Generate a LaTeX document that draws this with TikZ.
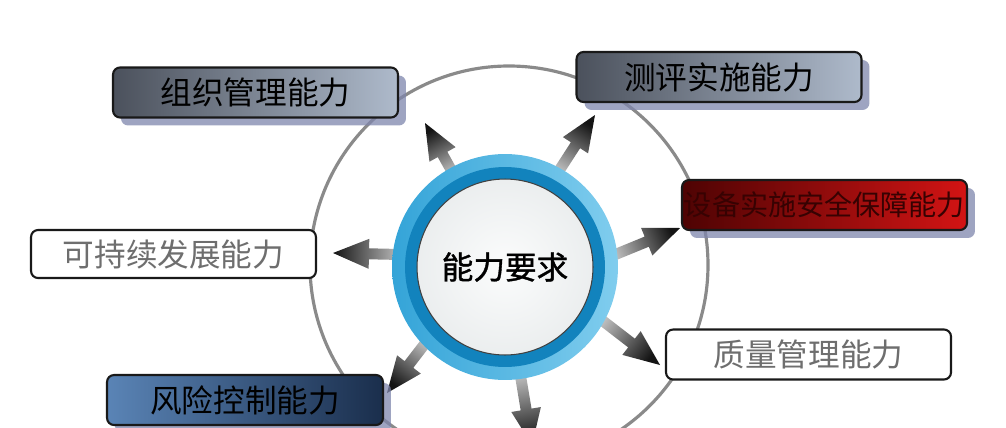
\documentclass[tikz,border=0pt]{standalone}
\usepackage{fontspec}
\setmainfont{Noto Sans CJK SC}
\newfontfamily\hubfont[FakeBold=1.2]{Noto Sans CJK SC}
\usepackage{xcolor}
\usepackage{tikz}
\usetikzlibrary{calc,shadows,backgrounds}

\definecolor{slateL}{HTML}{4B515C}
\definecolor{slateR}{HTML}{AEBACB}
\definecolor{redL}{HTML}{4E0303}
\definecolor{redR}{HTML}{D31414}
\definecolor{blueL}{HTML}{5A84B6}
\definecolor{blueR}{HTML}{1A2E4C}
\definecolor{shadowblue}{HTML}{7E85AC}
\definecolor{ringL}{HTML}{34A4D8}
\definecolor{ringR}{HTML}{80CDEE}
\definecolor{ringdark}{HTML}{1283BD}
\definecolor{softtext}{HTML}{6E6E6E}
\definecolor{orbitgray}{HTML}{8A8A8A}
\definecolor{diskA}{HTML}{FBFCFC}
\definecolor{diskB}{HTML}{E8EBEC}
\definecolor{diskC}{HTML}{CDD1D4}
\definecolor{diskD}{HTML}{8E9396}

\pgfdeclareradialshading{diskshade}{\pgfpoint{0bp}{0bp}}{color(0bp)=(diskA); color(30bp)=(diskB); color(43bp)=(diskC); color(50bp)=(diskD)}

% gradient arrow: anchor angle on hub, tip coordinate, shading angle
\newcommand{\gradarrow}[3]{%
  \coordinate (from) at ($(hub.center)!.9!(hub.#1)$);
  \coordinate (headbase) at ($(#2)!.72cm!(from)$);
  \path[arrowbody, shading angle=#3]
    ($(from)!.11cm!90:(#2)$) -- ($(headbase)!.11cm!90:(#2)$) -- ($(headbase)!.3cm!90:(#2)$)
    -- (#2) -- ($(headbase)!.3cm!-90:(#2)$) -- ($(headbase)!.11cm!-90:(#2)$)
    -- ($(from)!.11cm!-90:(#2)$) -- cycle;}

\begin{document}
\begin{tikzpicture}[
  x=0.02cm, y=0.02cm,
  box/.style={rectangle, rounded corners=4pt, draw=black!90, line width=1.2pt, minimum width=5.7cm, minimum height=1cm, inner sep=0pt, font=\fontsize{18}{21}\selectfont},
  darkbox/.style={box, drop shadow={shadow xshift=.16cm, shadow yshift=-.16cm, fill=shadowblue, opacity=.75}},
  plainbox/.style={box, fill=white, text=softtext},
  hubouter/.style={circle, minimum size=4.52cm, inner sep=0pt, left color=ringL, right color=ringR},
  hubring/.style={circle, minimum size=4cm, inner sep=0pt, fill=ringdark},
  hubdisk/.style={circle, minimum size=3.52cm, inner sep=0pt, shading=diskshade, draw=black!75, line width=.6pt, font=\hubfont\fontsize{18}{21}\selectfont},
  arrowbody/.style={top color=black!22, bottom color=black!92},
  orbit/.style={draw=orbitgray, line width=1.8pt}
]
\useasboundingbox (0,0) rectangle (1006,427);

\node[hubouter] (hub) at (505,160) {};
\node[hubring] (hubring) at (hub.center) {};
\node[hubdisk] (goal) at (hub.center) {能力要求};

\node[darkbox, left color=slateL, right color=slateR] (org) at (255.5,334.5) {组织管理能力};
\node[darkbox, left color=slateL, right color=slateR] (eval) at (719,350) {测评实施能力};
\node[darkbox, left color=redL, right color=redR, text=redL!70!black, font=\fontsize{16}{19}\selectfont] (safe) at (824.5,222) {设备实施安全保障能力};
\node[plainbox, minimum height=.96cm] (sus) at (173.5,173) {可持续发展能力};
\node[plainbox] (qual) at (808.5,72.5) {质量管理能力};
\node[darkbox, left color=blueL, right color=blueR, minimum width=5.52cm] (risk) at (245,27) {风险控制能力};

\coordinate (tipOrg) at (425,304);
\coordinate (tipEval) at (595,312);
\coordinate (tipSafe) at (680,199);
\coordinate (tipSus) at (333,174);
\coordinate (tipRisk) at (387,34);
\coordinate (tipDown) at (532,-18);
\coordinate (tipQual) at (660,62);

\begin{scope}[on background layer]
\draw[orbit] (509,162) circle[radius=199];
\gradarrow{119}{tipOrg}{209}
\gradarrow{61}{tipEval}{147}
\gradarrow{5}{tipSafe}{113}
\gradarrow{173}{tipSus}{269}
\gradarrow{223}{tipRisk}{323}
\gradarrow{278}{tipDown}{10}
\gradarrow{332}{tipQual}{52}
\end{scope}
\end{tikzpicture}
\end{document}
